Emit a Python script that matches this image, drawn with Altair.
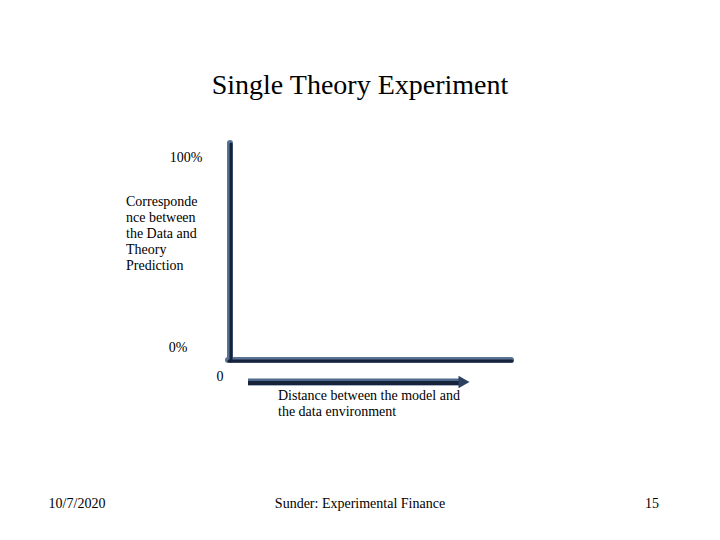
import altair as alt
import pandas as pd

# Slide content
title = "Single Theory Experiment"
y_label_lines = ["Corresponde", "nce between", "the Data and", "Theory", "Prediction"]
x_label_lines = ["Distance between the model and", "the data environment"]
y_ticks = ["100%", "0%"]
x_tick = "0"
footer = ["10/7/2020", "Sunder: Experimental Finance", "15"]

# Layout in slide pixel units (page coordinates)
W, H = 720, 540
FONT = "Liberation Serif"

xs = alt.Scale(domain=[8, 712], nice=False, zero=False)
ys = alt.Scale(domain=[532, 8], nice=False, zero=False)

def X(f="x"):
    return alt.X(f"{f}:Q", scale=xs, axis=None)

def Y(f="y"):
    return alt.Y(f"{f}:Q", scale=ys, axis=None)

# axes segments
axes_df = pd.DataFrame({
    "x": [230, 228], "y": [143, 360], "x2": [230, 511], "y2": [360, 360]
})
arrow_df = pd.DataFrame({"x": [248], "y": [382], "x2": [463], "y2": [382]})
head_df = pd.DataFrame({"x": [464], "y": [382]})

shadow = alt.Chart(axes_df).mark_rule(strokeWidth=6, color="#5a7394", strokeCap="round").encode(
    x=X(), y=Y(), x2="x2:Q", y2="y2:Q")
core = alt.Chart(axes_df.assign(x=axes_df.x + 1, x2=axes_df.x2 + 1, y=axes_df.y + 1, y2=axes_df.y2 + 1)).mark_rule(
    strokeWidth=3, color="#16233a", strokeCap="round").encode(x=X(), y=Y(), x2="x2:Q", y2="y2:Q")

arrow_sh = alt.Chart(arrow_df).mark_rule(strokeWidth=7, color="#4f6a8c").encode(
    x=X(), y=Y(), x2="x2:Q", y2="y2:Q")
arrow_core = alt.Chart(arrow_df.assign(y=arrow_df.y + 1, y2=arrow_df.y2 + 1)).mark_rule(
    strokeWidth=4, color="#16233a").encode(x=X(), y=Y(), x2="x2:Q", y2="y2:Q")
head = alt.Chart(head_df).mark_point(shape="triangle-right", filled=True, size=160, opacity=1,
                                     color="#2c4060").encode(x=X(), y=Y())

# Texts
title_df = pd.DataFrame({"t": [title], "x": [360], "y": [86]})
title_m = alt.Chart(title_df).mark_text(font=FONT, fontSize=28, color="black", baseline="middle").encode(
    x=X(), y=Y(), text="t:N")

ytick_df = pd.DataFrame({"t": y_ticks, "x": [186, 178], "y": [158, 348]})
xtick_df = pd.DataFrame({"t": [x_tick], "x": [220], "y": [377]})
ticks_m = alt.Chart(pd.concat([ytick_df, xtick_df])).mark_text(
    font=FONT, fontSize=14, color="black", baseline="middle").encode(x=X(), y=Y(), text="t:N")

ylab_df = pd.DataFrame({"t": y_label_lines, "x": [126] * 5, "y": [202, 218, 234, 250, 266]})
xlab_df = pd.DataFrame({"t": x_label_lines, "x": [278] * 2, "y": [396, 412]})
labs_m = alt.Chart(pd.concat([ylab_df, xlab_df])).mark_text(
    font=FONT, fontSize=14, color="black", align="left", baseline="middle").encode(x=X(), y=Y(), text="t:N")

foot_df = pd.DataFrame({"t": footer, "x": [77, 360, 652], "y": [504, 504, 504]})
foot_m = alt.Chart(foot_df).mark_text(font=FONT, fontSize=14, color="black", baseline="middle").encode(
    x=X(), y=Y(), text="t:N")

chart = alt.layer(shadow, core, arrow_sh, arrow_core, head, title_m, ticks_m, labs_m, foot_m).properties(
    width=704, height=524, padding=0, autosize=alt.AutoSizeParams(type="none"),
    background="white"
).configure_view(stroke=None)

chart.save("out.html", embed_options={"renderer": "svg", "actions": False})
